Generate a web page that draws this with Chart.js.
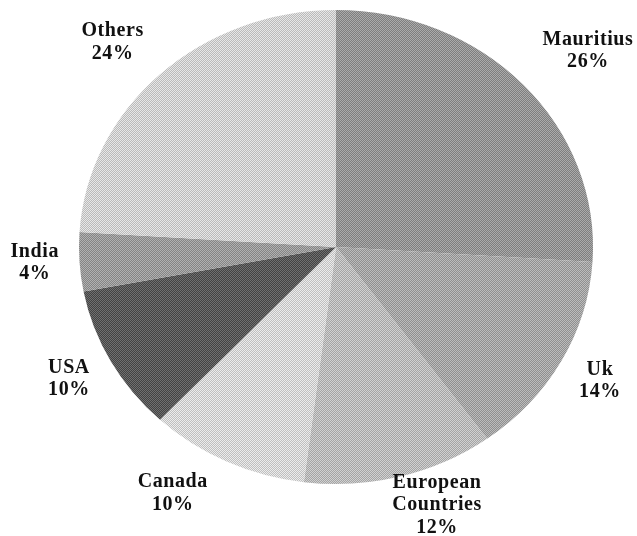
<!DOCTYPE html>
<html>
<head>
<meta charset="utf-8">
<script src="https://cdn.jsdelivr.net/npm/chart.js@4.4.0/dist/chart.umd.min.js"></script>
<style>
    html, body { margin: 0; padding: 0; background: #fff; }
    #pieChart { display: block; }
</style>
</head>
<body>
<canvas id="pieChart" width="637" height="536"></canvas>
<script>
// Chart data
const categories = ['Mauritius', 'Uk', ['European', 'Countries'], 'Canada', 'USA', 'India', 'Others'];
const shares = [26, 14, 12, 10, 10, 4, 24];
const greys = ['#959595', '#a6a6a6', '#bbbbbb', '#d6d6d6', '#5a5a5a', '#9b9b9b', '#d1d1d1'];

const squash = 237 / 257;   // the pie in the scan is a little flatter than a circle
const pieCenterY = 247;

// Small two-tone tile so the slices look grainy like the printed original
const bayer = [0, 8, 2, 10, 12, 4, 14, 6, 3, 11, 1, 9, 15, 7, 13, 5];
function grain(hex, spread) {
    const v = parseInt(hex.slice(1, 3), 16);
    const tile = document.createElement('canvas');
    tile.width = tile.height = 4;
    const g = tile.getContext('2d');
    for (let i = 0; i < 16; i++) {
        const lv = Math.max(0, Math.min(255, bayer[i] < 8 ? v + spread : v - spread));
        g.fillStyle = `rgb(${lv},${lv},${lv})`;
        g.fillRect(i % 4, Math.floor(i / 4), 1, 1);
    }
    const pat = g.createPattern(tile, 'repeat');
    // undo the vertical squash so the grain stays square
    pat.setTransform(new DOMMatrix().scale(1, 1 / squash));
    return pat;
}

// Draw the pie flattened into an ellipse
const ellipsePie = {
    id: 'ellipsePie',
    beforeDatasetsDraw(chart) {
        const arc = chart.getDatasetMeta(0).data[0];
        const ctx = chart.ctx;
        ctx.save();
        ctx.translate(arc.x, pieCenterY);
        ctx.scale(1, squash);
        ctx.translate(-arc.x, -arc.y);
    },
    afterDatasetsDraw(chart) {
        chart.ctx.restore();
    }
};

// Category + percent written outside each slice
const outsideLabels = {
    id: 'outsideLabels',
    afterDraw(chart, args, opts) {
        const ctx = chart.ctx;
        const total = shares.reduce((a, b) => a + b, 0);
        ctx.save();
        ctx.font = opts.font;
        ctx.letterSpacing = opts.spacing;
        ctx.fillStyle = '#111';
        ctx.textAlign = 'center';
        ctx.textBaseline = 'middle';
        chart.getDatasetMeta(0).data.forEach((arc, i) => {
            const mid = (arc.startAngle + arc.endAngle) / 2;
            const r = arc.outerRadius * opts.reach;
            const x = arc.x + Math.cos(mid) * r + opts.nudge[i][0];
            const y = pieCenterY + Math.sin(mid) * r * squash + opts.nudge[i][1];
            const lines = [].concat(categories[i], Math.round(shares[i] / total * 100) + '%');
            const top = y - (lines.length - 1) * opts.lineHeight / 2;
            lines.forEach((t, k) => ctx.fillText(t, x, top + k * opts.lineHeight));
        });
        ctx.restore();
    }
};

new Chart(document.getElementById('pieChart'), {
    type: 'pie',
    data: {
        labels: categories,
        datasets: [{
            data: shares,
            backgroundColor: greys.map(c => grain(c, 30)),
            borderWidth: 0
        }]
    },
    options: {
        responsive: false,
        animation: false,
        layout: { padding: { left: 79, right: 44, top: 0, bottom: 0 } },
        plugins: {
            legend: { display: false },
            tooltip: { enabled: false },
            outsideLabels: {
                font: 'bold 20px "Liberation Serif"',
                spacing: '0.6px',
                lineHeight: 22.5,
                reach: 1.19,
                nudge: [[29, -3], [-4, -2], [25, -15], [-33, -9], [1, -4], [4, -2], [-14, 1]]
            }
        }
    },
    plugins: [ellipsePie, outsideLabels]
});
</script>
</body>
</html>
